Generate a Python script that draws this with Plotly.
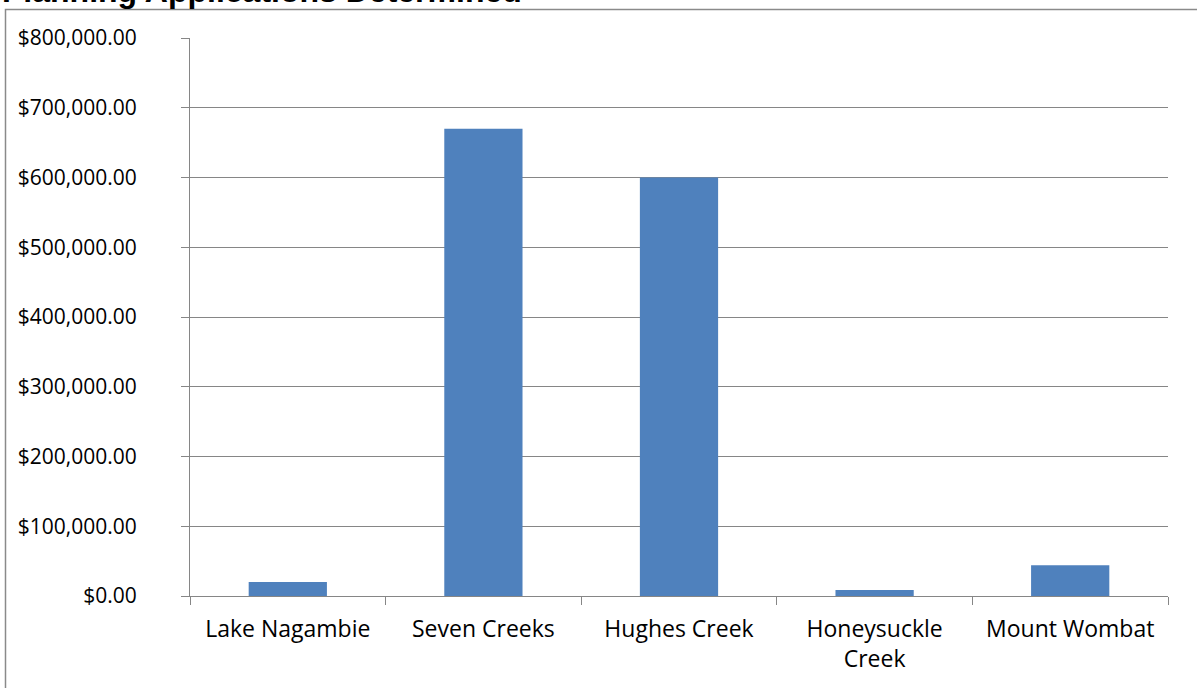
import plotly.graph_objects as go

# Value of planning applications determined, by locality
localities = ["Lake Nagambie", "Seven Creeks", "Hughes Creek", "Honeysuckle<br>Creek", "Mount Wombat"]
values = [20000, 670000, 600000, 8500, 44000]

y_ticks = [0, 100000, 200000, 300000, 400000, 500000, 600000, 700000, 800000]

W, H = 1197, 688
ML, MR, MT, MB = 190, 29, 38, 92
PW, PH = W - ML - MR, H - MT - MB

def px_x(px):
    return (px - ML) / PW

def px_y(py):
    return 1 + (MT - py) / PH

GRID = "#868686"
FAMILY = "Open Sans, Noto Sans, sans-serif"

fig = go.Figure(
    go.Bar(
        x=localities,
        y=values,
        marker=dict(color="#4F81BD", line=dict(width=0)),
        hovertemplate="%{x}: $%{y:,.2f}<extra></extra>",
    )
)

fig.update_layout(
    width=W,
    height=H,
    margin=dict(l=ML, r=MR, t=MT, b=MB, pad=0),
    paper_bgcolor="#ffffff",
    plot_bgcolor="#ffffff",
    bargap=0.6,
    showlegend=False,
    font=dict(family=FAMILY, size=21, color="#000000"),
)

fig.update_yaxes(
    range=[0, 800000],
    tickvals=y_ticks,
    tickformat="$,.2f",
    showgrid=True,
    gridcolor=GRID,
    gridwidth=1,
    zeroline=False,
    showline=True,
    linecolor=GRID,
    linewidth=1,
    ticks="outside",
    ticklen=8,
    tickcolor=GRID,
    tickfont=dict(family=FAMILY, size=21, color="#000000"),
    ticklabelstandoff=40,
)

fig.update_xaxes(
    showline=True,
    linecolor=GRID,
    linewidth=1,
    ticks="outside",
    tickson="boundaries",
    ticklen=8,
    tickcolor=GRID,
    tickfont=dict(family=FAMILY, size=23, color="#000000"),
    ticklabelstandoff=12,
)

# Chart-area frame
fig.add_shape(
    type="rect",
    xref="paper", yref="paper",
    x0=px_x(5.5), x1=px_x(1260),
    y0=px_y(760), y1=px_y(9.5),
    line=dict(color="#8a8a8a", width=1.5),
    fillcolor="rgba(0,0,0,0)",
    layer="below",
)

# Chart title
fig.add_annotation(
    text="<b>Planning Applications Determined</b>",
    xref="paper", yref="paper",
    x=px_x(0), y=px_y(-9),
    xanchor="left", yanchor="middle",
    showarrow=False,
    font=dict(family="Liberation Sans, Arial, sans-serif", size=32, color="#000000"),
)

fig.write_html("out.html")
